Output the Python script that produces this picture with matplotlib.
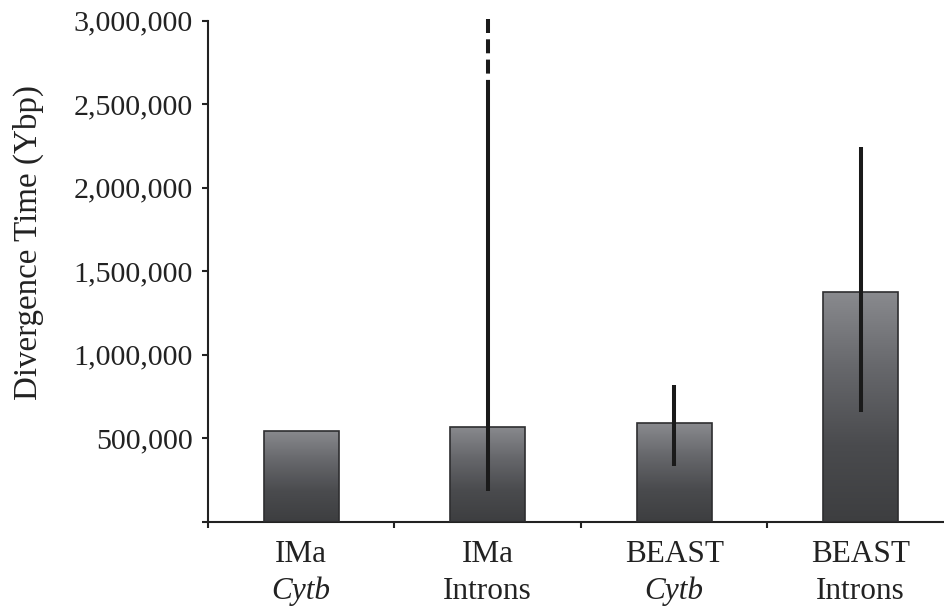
import numpy as np
import matplotlib
matplotlib.use("Agg")
import matplotlib.pyplot as plt
from matplotlib.colors import LinearSegmentedColormap
from matplotlib.ticker import FuncFormatter
import matplotlib.transforms as mtransforms

# ---- data ----
methods = ["IMa", "IMa", "BEAST", "BEAST"]
markers = ["Cytb", "Introns", "Cytb", "Introns"]
marker_italic = [True, False, True, False]
divergence = [545000, 569000, 589000, 1374000]
err_low = [None, 186000, 333000, 659000]
err_high = [None, 2645000, 819000, 2245000]
err_extended = [None, 3010000, None, None]   # dashed continuation beyond solid part
yticks = [0, 500000, 1000000, 1500000, 2000000, 2500000, 3000000]
ylabel = "Divergence Time (Ybp)"

plt.rcParams["font.family"] = ["Liberation Serif", "DejaVu Serif"]
fig = plt.figure(figsize=(9.45, 6.07), dpi=100)
W, H = 945, 607
left_px, right_px, top_px, bot_px = 208, 954, 20.7, 521.7
ax = fig.add_axes([left_px / W, 1 - bot_px / H, (right_px - left_px) / W, (bot_px - top_px) / H])

x = np.arange(len(divergence))
width = 0.40
ax.set_xlim(-0.5, 3.5)
ax.set_ylim(0, 3000000)

cmap = LinearSegmentedColormap.from_list("g", ["#3d3e40", "#4a4b4e", "#66676b", "#898a8e"])
grad = np.linspace(0, 1, 256).reshape(-1, 1)

bars = ax.bar(x, divergence, width=width, facecolor="none", edgecolor="#2e2e30", linewidth=1.2, zorder=3)
for b in bars:
    bx, by = b.get_x(), b.get_y()
    bw, bh = b.get_width(), b.get_height()
    im = ax.imshow(grad, cmap=cmap, origin="lower", aspect="auto",
                   extent=[bx, bx + bw, by, by + bh], zorder=2, interpolation="bicubic")
    im.set_clip_path(b)

lw = 2.9
px2pt = 72 / 100
for i in range(len(divergence)):
    if err_low[i] is None:
        continue
    ax.plot([x[i], x[i]], [err_low[i], err_high[i]], color="#1a1a1a", lw=lw,
            solid_capstyle="butt", zorder=4)
    if err_extended[i] is not None:
        ax.plot([x[i], x[i]], [err_extended[i], err_high[i]], color="#1a1a1a", lw=lw,
                linestyle=(0, (14 * px2pt / lw, 6.3 * px2pt / lw)), dash_capstyle="butt",
                zorder=4, clip_on=False)

ax.set_xlim(-0.5, 3.5)
ax.set_ylim(0, 3000000)

# spines
for s in ["top", "right"]:
    ax.spines[s].set_visible(False)
for s in ["left", "bottom"]:
    ax.spines[s].set_color("#222222")
    ax.spines[s].set_linewidth(1.5)

ax.set_yticks(yticks)
ax.yaxis.set_major_formatter(FuncFormatter(lambda v, p: "" if v == 0 else f"{int(v):,}"))
ax.tick_params(axis="y", direction="out", length=4, width=1.5, color="#222222",
               labelsize=21.6, pad=7, labelcolor="#222222")
ax.set_xticks(np.arange(-0.5, 4.0, 1.0))
ax.set_xticklabels([])
ax.tick_params(axis="x", direction="out", length=4, width=1.5, color="#222222")

fig.text(28 / W, 1 - 242 / H, ylabel, rotation=90, ha="center", va="center",
         fontsize=23.8, color="#222222")

trans = mtransforms.blended_transform_factory(ax.transData, fig.transFigure)
for i in range(len(divergence)):
    ax.text(x[i], 1 - 562 / H, methods[i], transform=trans, ha="center", va="baseline",
            fontsize=22.5, color="#222222")
    ax.text(x[i], 1 - 599 / H, markers[i], transform=trans, ha="center", va="baseline",
            fontsize=22.5, color="#222222", style="italic" if marker_italic[i] else "normal")

fig.savefig("out.png", dpi=100)
